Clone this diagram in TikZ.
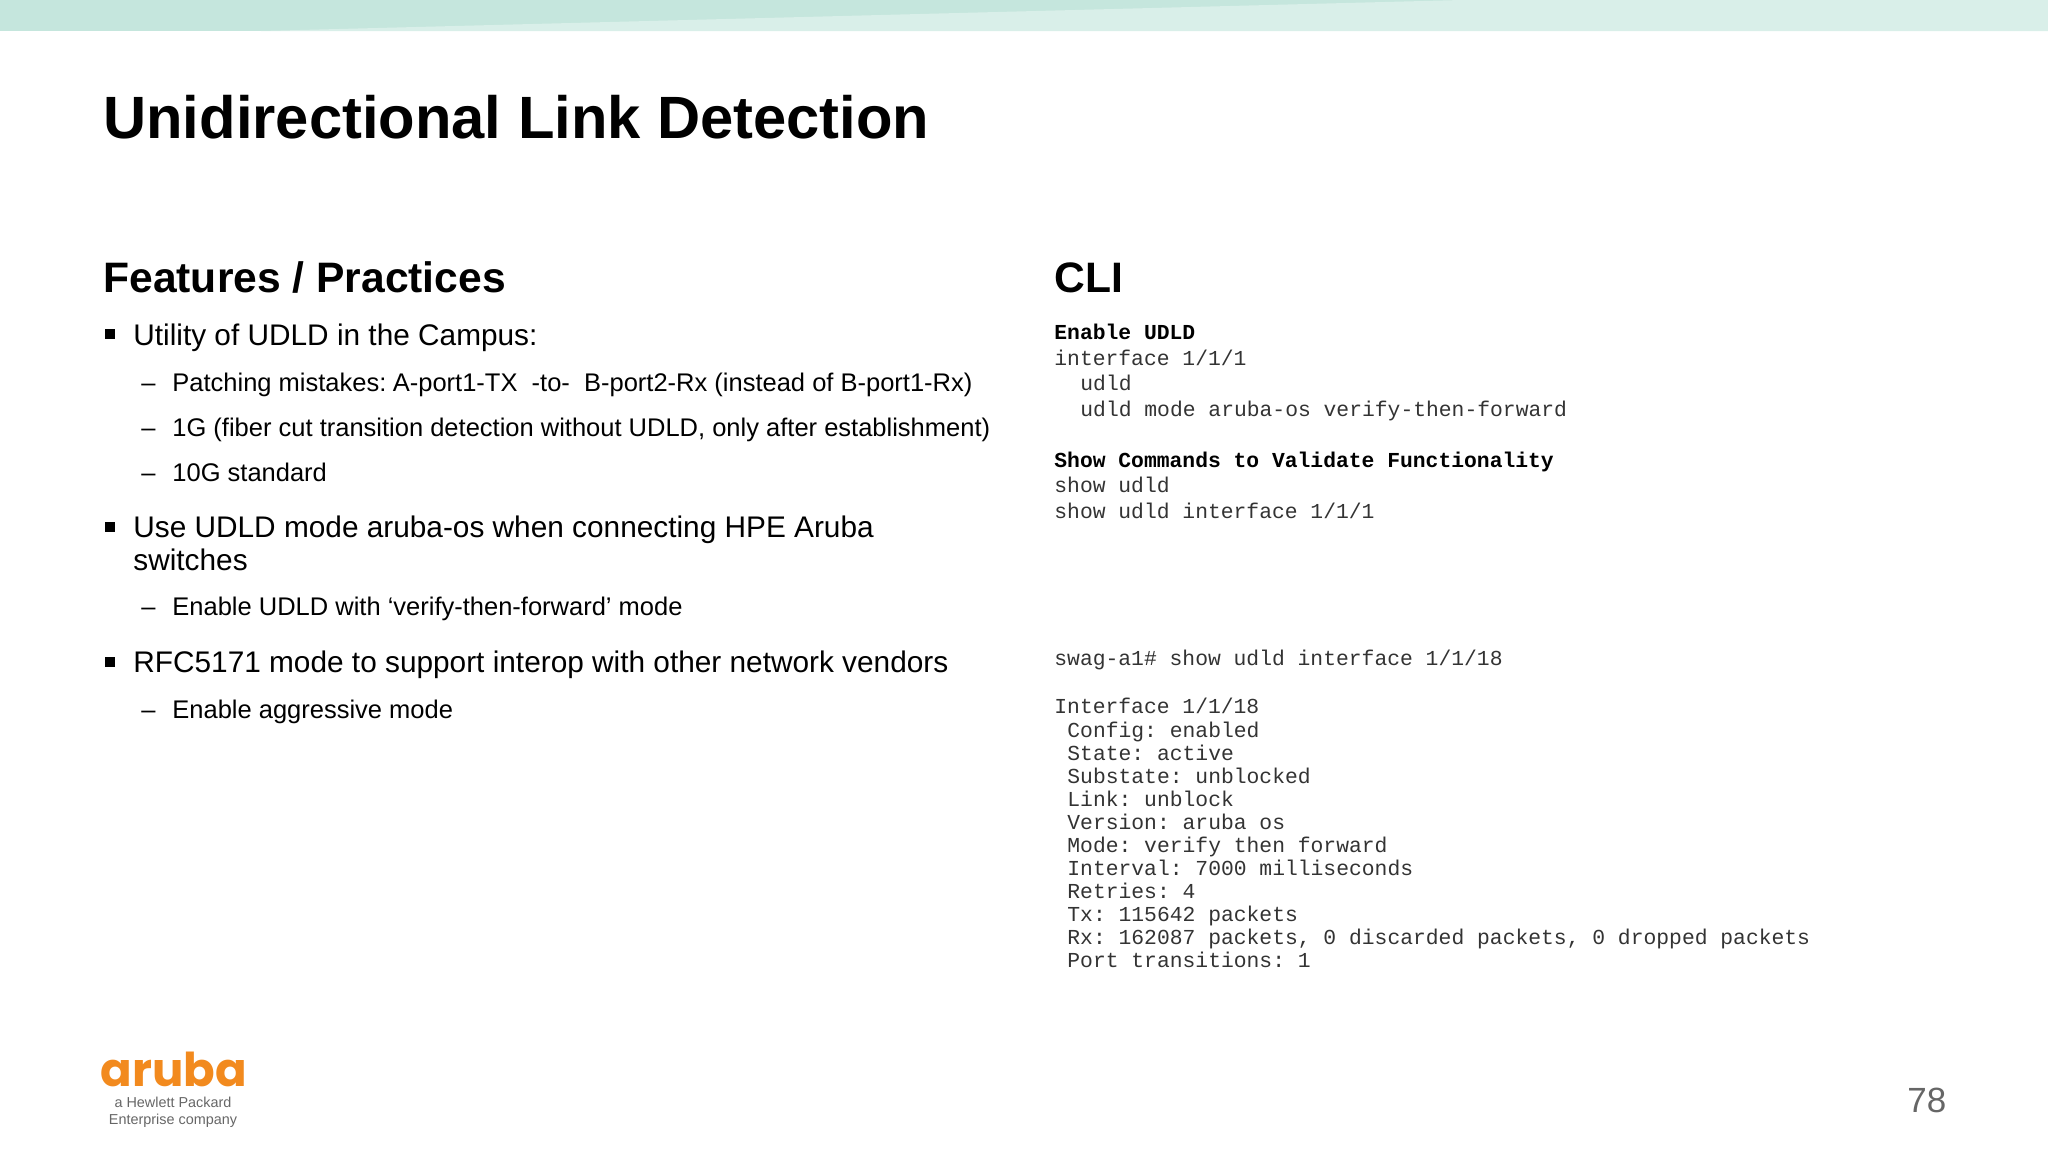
\documentclass[tikz,border=0pt]{standalone}
\usepackage{fontspec}
\setmainfont{Liberation Sans}
\setmonofont{Liberation Mono}
\newfontfamily\logofont{Poppins}
\definecolor{bandA}{HTML}{C5E6DD}
\definecolor{bandB}{HTML}{D9EFE9}
\definecolor{arubaorange}{HTML}{F28A1E}
\definecolor{codegray}{HTML}{333333}
\tikzset{
  every node/.style={inner sep=0pt,anchor=base west},
  pagetitle/.style={font=\bfseries\fontsize{29.85}{36}\selectfont},
  heading/.style={font=\bfseries\fontsize{21.3}{25}\selectfont},
  item/.style={font=\fontsize{14.9}{18}\selectfont},
  subitem/.style={font=\fontsize{12.75}{16}\selectfont},
  sqbullet/.style={anchor=center,rectangle,fill,minimum size=5pt},
  code/.style={font=\ttfamily\fontsize{10.67}{12}\selectfont,text=codegray},
  codehead/.style={font=\ttfamily\bfseries\fontsize{10.67}{12}\selectfont,text=black},
}
\begin{document}
\begin{tikzpicture}[x=0.5pt,y=-0.5pt]
  \useasboundingbox (0,0) rectangle (2048,1152);%

  \fill[bandA] (0,0) rectangle (2048,31);%
  \fill[bandB] (261,31) -- (1462,0) -- (2048,0) -- (2048,31) -- cycle;%

  \node[pagetitle] (T) at (103,138.5) {Unidirectional Link Detection};%
  \node[heading] (H1) at (103,292) {Features / Practices};%
  \node[heading] (H2) at (1054,292) {CLI};%

  \node[sqbullet] (P1) at (110,334) {};%
  \node[item] (I1) at (133,345.5) {Utility of UDLD in the Campus:};%
  \node[subitem] (D1) at (141,391) {–};%
  \node[subitem] (S1) at (172,391) {Patching mistakes:\hspace{-1.5pt} A-port1-TX\ \ -to-\ \ B-port2-Rx (instead of B-port1-Rx)};%
  \node[subitem] (D2) at (141,436) {–};%
  \node[subitem] (S2) at (172,436) {1G (fiber cut transition detection without UDLD, only after establishment)};%
  \node[subitem] (D3) at (141,481) {–};%
  \node[subitem] (S3) at (172,481) {10G standard};%

  \node[sqbullet] (P2) at (110,527) {};%
  \node[item] (I2) at (133,537.5) {Use UDLD mode aruba-os when connecting HPE Aruba};%
  \node[item] (I3) at (133,570.5) {switches};%
  \node[subitem] (D4) at (141,615) {–};%
  \node[subitem] (S4) at (172,615) {Enable UDLD with ‘verify-then-forward’ mode};%

  \node[sqbullet] (P3) at (110,662) {};%
  \node[item] (I4) at (133,672) {RFC5171 mode to support interop with other network vendors};%
  \node[subitem] (D5) at (141,718) {–};%
  \node[subitem] (S5) at (172,718) {Enable aggressive mode};%

  \node[codehead] (A1) at (1054,339) {Enable UDLD};%
  \node[code] (A2) at (1054,365) {interface 1/1/1};%
  \node[code] (A3) at (1080,390) {udld};%
  \node[code] (A4) at (1080,416) {udld mode aruba-os verify-then-forward};%
  \node[codehead] (A5) at (1054,467) {Show Commands to Validate Functionality};%
  \node[code] (A6) at (1054,492.5) {show udld};%
  \node[code] (A7) at (1054,518) {show udld interface 1/1/1};%

  \node[code] (B1) at (1054,665) {swag-a1\# show udld interface 1/1/18};%
  \node[code] (B2) at (1054,713.5) {Interface 1/1/18};%
  \node[code] (B3) at (1067,737.5) {Config: enabled};%
  \node[code] (B4) at (1067,760) {State: active};%
  \node[code] (B5) at (1067,783.5) {Substate: unblocked};%
  \node[code] (B6) at (1067,806.5) {Link: unblock};%
  \node[code] (B7) at (1067,829.5) {Version: aruba os};%
  \node[code] (B8) at (1067,852.5) {Mode: verify then forward};%
  \node[code] (B9) at (1067,875.5) {Interval: 7000 milliseconds};%
  \node[code] (B10) at (1067,898.5) {Retries: 4};%
  \node[code] (B11) at (1067,921.5) {Tx: 115642 packets};%
  \node[code] (B12) at (1067,944.5) {Rx: 162087 packets, 0 discarded packets, 0 dropped packets};%
  \node[code] (B13) at (1067,967.5) {Port transitions: 1};%

  \node[anchor=base,font=\logofont\bfseries\fontsize{23.3}{23.3}\selectfont,text=arubaorange] (L1) at (174,1086) {aruba};%
  \node[anchor=north,align=center,font=\fontsize{7.2}{8.5}\selectfont,text=black!60] (L2) at (173,1097) {a Hewlett Packard\\Enterprise company};%

  \node[font=\fontsize{17.5}{20}\selectfont,text=black!60] (N) at (1907,1112) {78};%
\end{tikzpicture}
\end{document}
